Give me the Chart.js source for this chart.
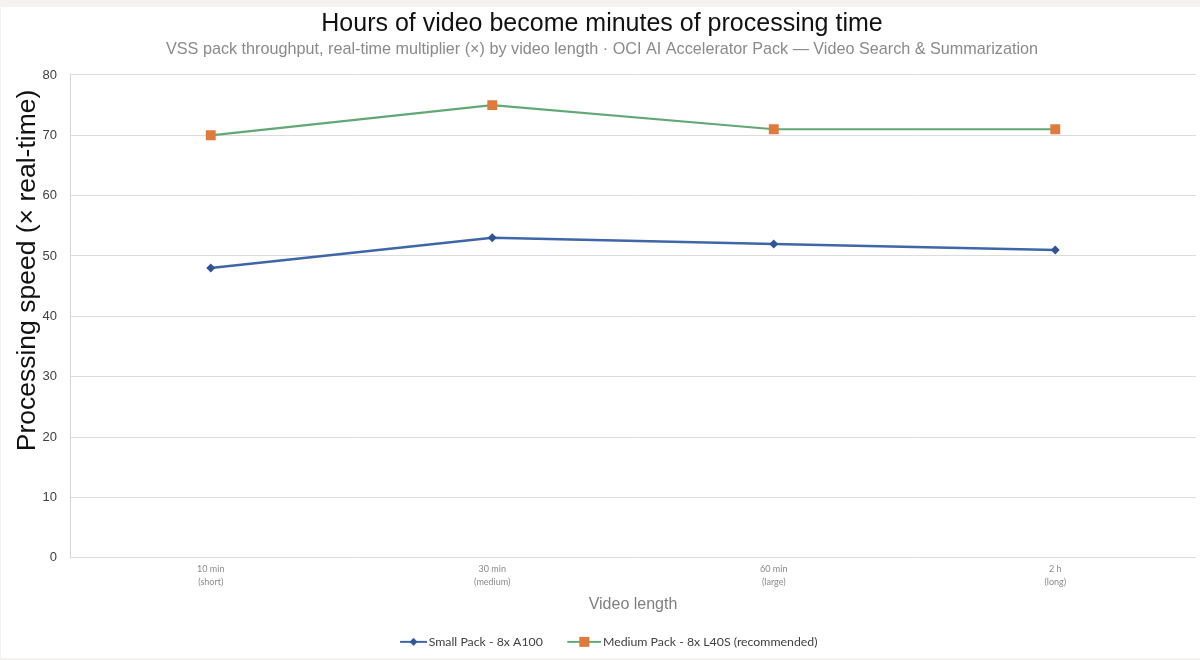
<!DOCTYPE html>
<html>
<head>
<meta charset="utf-8">
<script src="https://cdn.jsdelivr.net/npm/chart.js@4"></script>
<style>
  html, body { margin: 0; padding: 0; background: #f4f3f1; overflow: hidden; }
  .card { position: absolute; left: 1px; top: 7px; width: 1202px; height: 651px; background: #ffffff; }
  canvas { display: block; }
</style>
</head>
<body>
<div class="card"><canvas id="c" width="1202" height="651"></canvas></div>
<script>
// datos
const categories = [['10 min', '(short)'], ['30 min', '(medium)'], ['60 min', '(large)'], ['2 h', '(long)']];
const smallPack = [48, 53, 52, 51];
const mediumPack = [70, 75, 71, 71];
const seriesNames = ['Small Pack - 8x A100', 'Medium Pack - 8x L40S (recommended)'];

const BLUE = '#3d67a8';
const BLUE_DARK = '#2f5594';
const GREEN = '#62a877';
const ORANGE = '#e07a3c';

// icono de leyenda: línea + marcador (margen transparente a la izquierda)
function legendIcon(lineColor, markColor, shape, margin) {
  const w = 45;
  const cv = document.createElement('canvas');
  cv.width = w; cv.height = 14;
  const g = cv.getContext('2d');
  g.strokeStyle = lineColor; g.lineWidth = 2;
  g.beginPath(); g.moveTo(margin, 7); g.lineTo(w, 7); g.stroke();
  const mid = (margin + w) / 2;
  g.fillStyle = markColor;
  if (shape === 'diamond') {
    g.beginPath(); g.moveTo(mid, 3); g.lineTo(mid + 4, 7); g.lineTo(mid, 11); g.lineTo(mid - 4, 7); g.closePath(); g.fill();
  } else {
    g.fillRect(mid - 5, 2, 10, 10);
  }
  return cv;
}

const icons = [legendIcon(BLUE, BLUE_DARK, 'diamond', 18), legendIcon(GREEN, ORANGE, 'square', 11)];

new Chart(document.getElementById('c'), {
  type: 'line',
  data: {
    labels: categories,
    datasets: [
      {
        label: seriesNames[0],
        data: smallPack,
        borderColor: BLUE,
        borderWidth: 2.5,
        pointStyle: 'rectRot',
        pointRadius: 4.5,
        pointBackgroundColor: BLUE_DARK,
        pointBorderColor: BLUE_DARK,
        pointBorderWidth: 0,
        tension: 0
      },
      {
        label: seriesNames[1],
        data: mediumPack,
        borderColor: GREEN,
        borderWidth: 2.2,
        pointStyle: 'rect',
        pointRadius: 7,
        pointBackgroundColor: ORANGE,
        pointBorderColor: ORANGE,
        pointBorderWidth: 0,
        tension: 0
      }
    ]
  },
  options: {
    responsive: false,
    animation: false,
    layout: { padding: { top: 0, left: 0, right: 0, bottom: 0 } },
    plugins: {
      title: {
        display: true,
        text: 'Hours of video become minutes of processing time',
        color: '#111111',
        font: { family: 'Liberation Sans', size: 25, weight: 'normal' },
        padding: { top: 2, bottom: 0 }
      },
      subtitle: {
        display: true,
        text: 'VSS pack throughput, real-time multiplier (×) by video length · OCI AI Accelerator Pack — Video Search & Summarization',
        color: '#8a8a8a',
        font: { family: 'Liberation Sans', size: 16.2 },
        padding: { top: 0.5, bottom: 16 }
      },
      legend: {
        position: 'bottom',
        labels: {
          color: '#404040',
          font: { family: 'Lato', size: 12.3 },
          usePointStyle: true,
          pointStyleWidth: 36,
          padding: 18,
          generateLabels: (chart) => chart.data.datasets.map((ds, i) => ({
            text: ds.label,
            pointStyle: icons[i],
            fillStyle: 'transparent',
            strokeStyle: 'transparent',
            lineWidth: 0,
            fontColor: '#404040',
            datasetIndex: i,
            hidden: false
          }))
        }
      },
      tooltip: { enabled: false }
    },
    scales: {
      x: {
        offset: true,
        grid: { display: false, drawTicks: false },
        border: { display: false },
        ticks: { color: '#8a8a8a', font: { family: 'Lato', size: 9, lineHeight: 1.45 }, padding: 5, maxRotation: 0 },
        title: {
          display: true,
          text: 'Video length',
          color: '#7f7f7f',
          font: { family: 'Liberation Sans', size: 16, lineHeight: 1.0 },
          padding: { top: 3, bottom: 5 }
        },
        afterFit: (scale) => { scale.height = 60; }
      },
      y: {
        min: 0,
        max: 80,
        ticks: { stepSize: 10, color: '#404040', font: { family: 'Liberation Sans', size: 13 }, padding: 13 },
        grid: { color: '#dcdcdc', lineWidth: 1, drawTicks: false },
        border: { display: true, color: '#d4d4d4' },
        title: {
          display: true,
          text: 'Processing speed (× real-time)  ',
          align: 'end',
          color: '#111111',
          font: { family: 'Liberation Sans', size: 26.5 },
          padding: { top: 11, bottom: 0 }
        },
        afterFit: (scale) => { scale.width = 69; }
      }
    }
  }
});
</script>
</body>
</html>
